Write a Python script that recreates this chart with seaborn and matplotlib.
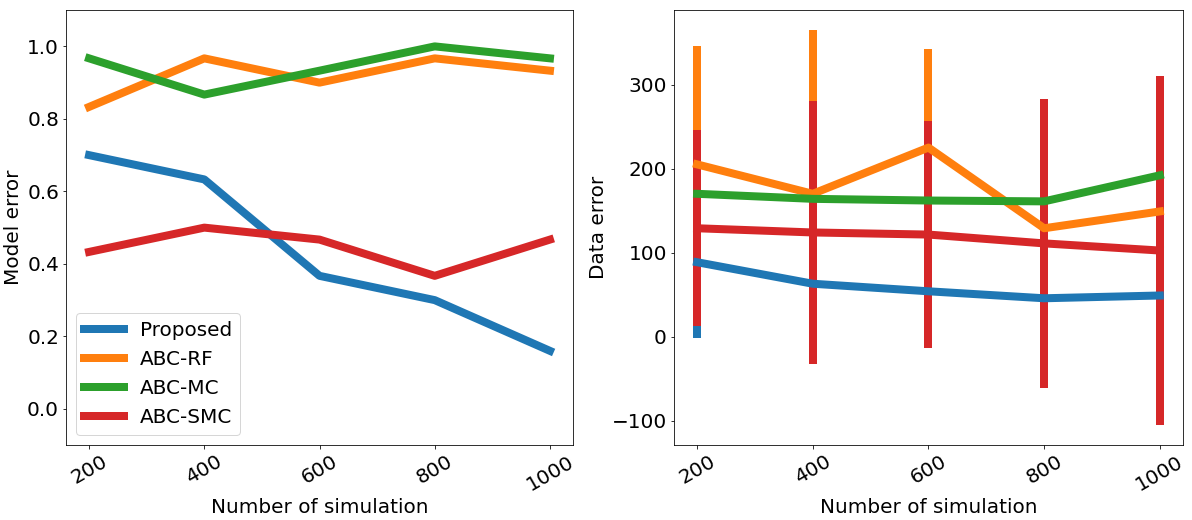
import matplotlib
matplotlib.use("Agg")
import matplotlib.pyplot as plt
import seaborn as sns
import pandas as pd

# number of simulations on the x axis
n_sim = [200, 400, 600, 800, 1000]
methods = ["Proposed", "ABC-RF", "ABC-MC", "ABC-SMC"]

# model error (left panel)
model_proposed = [0.70, 0.633, 0.367, 0.30, 0.16]
model_rf = [0.833, 0.967, 0.90, 0.967, 0.933]
model_mc = [0.967, 0.867, 0.933, 1.0, 0.967]
model_smc = [0.433, 0.50, 0.467, 0.367, 0.467]

# data error (right panel) and its spread
data_proposed = [88.6, 63, 54, 45.7, 49]
data_rf = [205, 170, 225, 129, 149]
data_mc = [170, 164, 162, 161, 192]
data_smc = [129, 124, 121.5, 111, 102.5]

err_proposed = [90.6, 60, 55, 60, 70]
err_rf = [140.6, 195, 117, 120, 140]
err_mc = [40, 45, 40, 50, 60]
err_smc = [116.5, 156, 135.5, 172, 208]

palette = ["#1f77b4", "#ff7f0e", "#2ca02c", "#d62728"]
model_vals = [model_proposed, model_rf, model_mc, model_smc]
data_vals = [data_proposed, data_rf, data_mc, data_smc]
data_errs = [err_proposed, err_rf, err_mc, err_smc]

rows_model = []
rows_data = []
for m, mv, dv in zip(methods, model_vals, data_vals):
    for i, n in enumerate(n_sim):
        rows_model.append([m, n, mv[i]])
        rows_data.append([m, n, dv[i]])
df_model = pd.DataFrame(rows_model, columns=["method", "n", "value"])
df_data = pd.DataFrame(rows_data, columns=["method", "n", "value"])

fs = 20
lw = 8
fig = plt.figure(figsize=(1192 / 72, 520 / 72), dpi=72)
ax1 = fig.add_axes([0.0554, 0.144, 0.4253, 0.8365])
ax2 = fig.add_axes([0.5654, 0.144, 0.427, 0.8365])

sns.lineplot(data=df_model, x="n", y="value", hue="method", hue_order=methods,
             palette=palette, linewidth=lw, ax=ax1, legend=False,
             solid_capstyle="projecting")
ax1.set_ylim(-0.1, 1.1)
ax1.set_ylabel("Model error", fontsize=fs)
ax1.legend(handles=ax1.lines, labels=methods, loc="lower left", fontsize=fs)

# error bars first so the lines sit on top
for m, dv, de, c in zip(methods, data_vals, data_errs, palette):
    ax2.errorbar(n_sim, dv, yerr=de, fmt="none", ecolor=c, elinewidth=lw, capsize=0)
sns.lineplot(data=df_data, x="n", y="value", hue="method", hue_order=methods,
             palette=palette, linewidth=lw, ax=ax2, legend=False,
             solid_capstyle="projecting")
ax2.set_ylabel("Data error", fontsize=fs)

for ax in (ax1, ax2):
    ax.set_xticks(n_sim)
    ax.set_xlabel("Number of simulation", fontsize=fs)
    ax.tick_params(labelsize=fs)
    for lab in ax.get_xticklabels():
        lab.set_rotation(30)

fig.savefig("out.png", dpi=72)
